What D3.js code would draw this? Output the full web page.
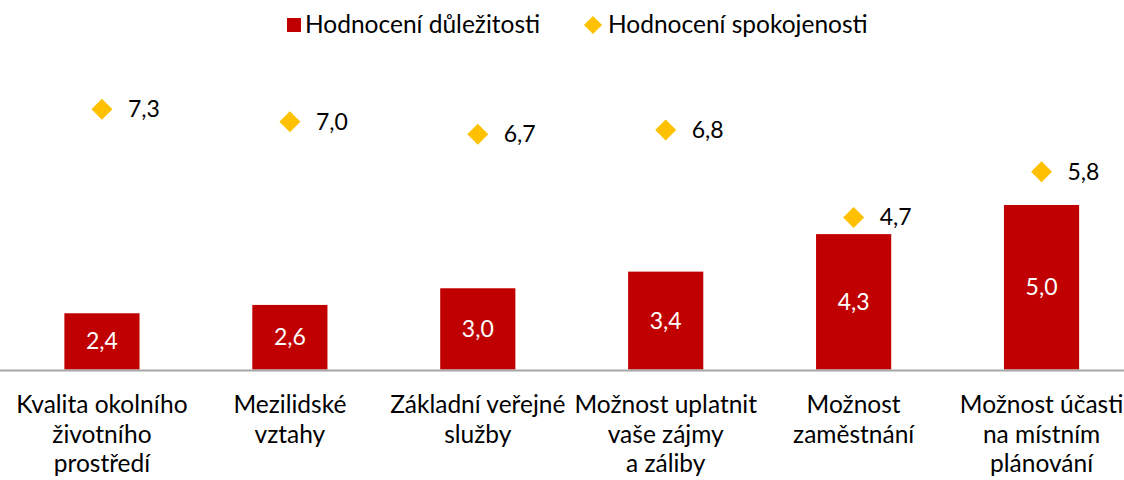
<!DOCTYPE html>
<html>
<head>
<meta charset="utf-8">
<script src="https://cdn.jsdelivr.net/npm/d3@7"></script>
<style>
  body { margin: 0; background: #fff; }
  svg text { font-family: Lato, "Open Sans", sans-serif; }
</style>
</head>
<body>
<svg id="chart" width="1124" height="480"></svg>
<script>
// categories (each label split into its lines)
var categories = [
  ["Kvalita okolního", "životního", "prostředí"],
  ["Mezilidské", "vztahy"],
  ["Základní veřejné", "služby"],
  ["Možnost uplatnit", "vaše zájmy", "a záliby"],
  ["Možnost", "zaměstnání"],
  ["Možnost účasti", "na místním", "plánování"]
];
var importance = [2.4, 2.6, 3.0, 3.4, 4.3, 5.0];
var satisfaction = [7.3, 7.0, 6.7, 6.8, 4.7, 5.8];
var seriesNames = ["Hodnocení důležitosti", "Hodnocení spokojenosti"];

var RED = "#C00000", GOLD = "#FFC000";
var fmt = function (v) { return d3.format(".1f")(v).replace(".", ","); };

var svg = d3.select("#chart");
var baseY = 369.5;

var x = d3.scaleBand()
  .domain(d3.range(categories.length))
  .range([8, 1135.5])
  .paddingInner(0.6)
  .paddingOuter(0.3);

var y = d3.scaleLinear()
  .domain([1.05, 8])
  .range([baseY, 80]);

// bars
svg.selectAll("rect.bar").data(importance).enter().append("rect")
  .attr("class", "bar")
  .attr("x", function (d, i) { return x(i); })
  .attr("width", x.bandwidth())
  .attr("y", function (d) { return y(d); })
  .attr("height", function (d) { return baseY - y(d); })
  .attr("fill", RED);

svg.selectAll("text.barlab").data(importance).enter().append("text")
  .attr("class", "barlab")
  .attr("x", function (d, i) { return x(i) + x.bandwidth() / 2; })
  .attr("y", function (d) { return (y(d) + baseY) / 2 + 8; })
  .attr("text-anchor", "middle")
  .attr("font-size", 23)
  .attr("fill", "#fff")
  .text(fmt);

// axis line
svg.append("line")
  .attr("x1", 0).attr("x2", 1124)
  .attr("y1", baseY + 1).attr("y2", baseY + 1)
  .attr("stroke", "#A6A6A6").attr("stroke-width", 2);

// diamonds
var diamond = d3.symbol(d3.symbolSquare, 220);
svg.selectAll("path.pt").data(satisfaction).enter().append("path")
  .attr("class", "pt")
  .attr("d", diamond)
  .attr("fill", GOLD)
  .attr("transform", function (d, i) {
    return "translate(" + (x(i) + x.bandwidth() / 2) + "," + y(d) + ") rotate(45)";
  });

svg.selectAll("text.ptlab").data(satisfaction).enter().append("text")
  .attr("class", "ptlab")
  .attr("x", function (d, i) { return x(i) + x.bandwidth() / 2 + 26; })
  .attr("y", function (d) { return y(d) + 8; })
  .attr("font-size", 23)
  .attr("fill", "#000")
  .text(fmt);

// category labels
var lab = svg.selectAll("text.cat").data(categories).enter().append("text")
  .attr("class", "cat")
  .attr("text-anchor", "middle")
  .attr("font-size", 24.5)
  .attr("fill", "#000")
  .attr("transform", function (d, i) { return "translate(" + (x(i) + x.bandwidth() / 2) + ",0)"; });
lab.selectAll("tspan").data(function (d) { return d; }).enter().append("tspan")
  .attr("x", 0)
  .attr("y", function (d, j) { return 413 + j * 29.5; })
  .text(function (d) { return d; });

// legend
var leg = svg.append("g");
leg.append("rect").attr("x", 287).attr("y", 18).attr("width", 14).attr("height", 14).attr("fill", RED);
leg.append("text").attr("x", 305).attr("y", 33).attr("font-size", 24.5).text(seriesNames[0]);
leg.append("path").attr("d", d3.symbol(d3.symbolSquare, 165)).attr("fill", GOLD)
  .attr("transform", "translate(593,25) rotate(45)");
leg.append("text").attr("x", 608).attr("y", 33).attr("font-size", 24.5).text(seriesNames[1]);
</script>
</body>
</html>
